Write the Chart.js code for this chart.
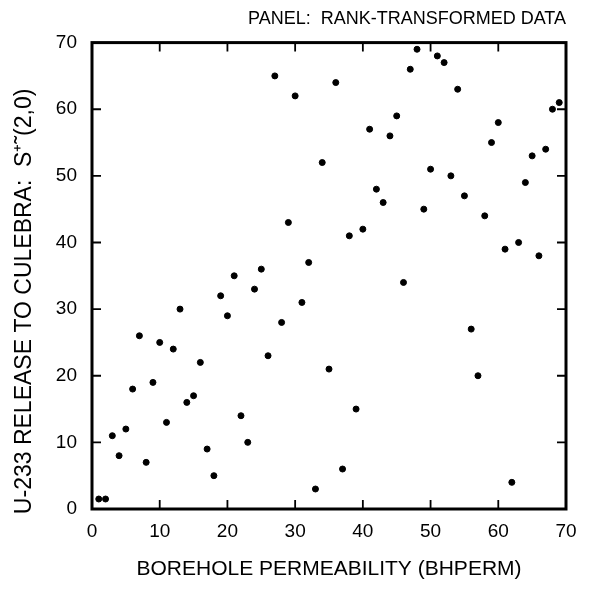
<!DOCTYPE html>
<html>
<head>
<meta charset="utf-8">
<script src="https://cdn.jsdelivr.net/npm/chart.js@4/dist/chart.umd.min.js"></script>
<style>
  html, body { margin: 0; padding: 0; background: #fff; }
  #wrap { width: 590px; height: 592px; }
</style>
</head>
<body>
<div id="wrap"><canvas id="c" width="590" height="592"></canvas></div>
<script>
// rank of BHPERM (x) and rank of U-233 release (y)
const bhpermRank = [
  1, 2, 3, 4, 5, 6, 7, 8, 9, 10,
  11, 12, 13, 14, 15, 16, 17, 18, 19, 20,
  21, 22, 23, 24, 25, 26, 27, 28, 29, 30,
  31, 32, 33, 34, 35, 36, 37, 38, 39, 40,
  41, 42, 43, 44, 45, 46, 47, 48, 49, 50,
  51, 52, 53, 54, 55, 56, 57, 58, 59, 60,
  61, 62, 63, 64, 65, 66, 67, 68, 69
];
const releaseRank = [
  1.5, 1.5, 11, 8, 12, 18, 26, 7, 19, 25,
  13, 24, 30, 16, 17, 22, 9, 5, 32, 29,
  35, 14, 10, 33, 36, 23, 65, 28, 43, 62,
  31, 37, 3, 52, 21, 64, 6, 41, 15, 42,
  57, 48, 46, 56, 59, 34, 66, 69, 45, 51,
  68, 67, 50, 63, 47, 27, 20, 44, 55, 58,
  39, 4, 40, 49, 53, 38, 54, 60, 61
];
const tickValues = [0, 10, 20, 30, 40, 50, 60, 70];

const FONT = "'Liberation Sans', Arial, Helvetica, sans-serif";

const points = bhpermRank.map((x, i) => ({ x, y: releaseRank[i] }));

// frame + inward ticks on all four sides
const framePlugin = {
  id: 'frame',
  afterDatasetsDraw(chart) {
    const { ctx, chartArea: a, scales } = chart;
    ctx.save();
    ctx.strokeStyle = '#000';
    ctx.lineWidth = 1.8;
    const len = 9;
    tickValues.slice(1, -1).forEach(v => {
      const px = scales.x.getPixelForValue(v);
      const py = scales.y.getPixelForValue(v);
      ctx.beginPath();
      ctx.moveTo(px, a.bottom); ctx.lineTo(px, a.bottom - len);
      ctx.moveTo(px, a.top); ctx.lineTo(px, a.top + len);
      ctx.moveTo(a.left, py); ctx.lineTo(a.left + len, py);
      ctx.moveTo(a.right, py); ctx.lineTo(a.right - len, py);
      ctx.stroke();
    });
    ctx.lineWidth = 3;
    ctx.strokeRect(a.left, a.top, a.right - a.left, a.bottom - a.top);
    ctx.restore();
  }
};

new Chart(document.getElementById('c').getContext('2d'), {
  type: 'scatter',
  data: {
    datasets: [{
      data: points,
      backgroundColor: '#000',
      borderColor: '#000',
      pointRadius: 3,
      pointHoverRadius: 3,
    }],
  },
  options: {
    responsive: false,
    animation: false,
    layout: { padding: { left: 0, right: 24, top: 0, bottom: 0 } },
    plugins: {
      legend: { display: false },
      tooltip: { enabled: false },
      title: {
        display: true,
        text: 'PANEL:  RANK-TRANSFORMED DATA',
        align: 'end',
        color: '#000',
        font: { family: FONT, size: 18, weight: 'normal' },
        padding: { top: 8, bottom: 13 },
      },
    },
    scales: {
      x: {
        type: 'linear',
        min: 0, max: 70,
        afterBuildTicks(s) { s.ticks = tickValues.map(v => ({ value: v })); },
        afterFit(s) { s.height = 83; },
        grid: { display: false, drawTicks: false },
        border: { display: false },
        ticks: { color: '#000', padding: 11, font: { family: FONT, size: 19 } },
        title: {
          display: true,
          text: 'BOREHOLE PERMEABILITY (BHPERM)',
          color: '#000',
          font: { family: FONT, size: 21 },
          padding: { top: 0, bottom: 10 },
        },
      },
      y: {
        type: 'linear',
        min: 0, max: 70,
        afterBuildTicks(s) { s.ticks = tickValues.map(v => ({ value: v })); },
        afterFit(s) { s.width = 92; },
        grid: { display: false, drawTicks: false },
        border: { display: false },
        ticks: { color: '#000', padding: 15, font: { family: FONT, size: 19 } },
        title: {
          display: true,
          // trailing spaces nudge the centred label down a little, as in the original
          text: 'U-233 RELEASE TO CULEBRA:  S\u207A\u02DC(2,0)        ',
          color: '#000',
          font: { family: FONT, size: 23 },
          padding: { top: 11, bottom: 0 },
        },
      },
    },
  },
  plugins: [framePlugin],
});
</script>
</body>
</html>
